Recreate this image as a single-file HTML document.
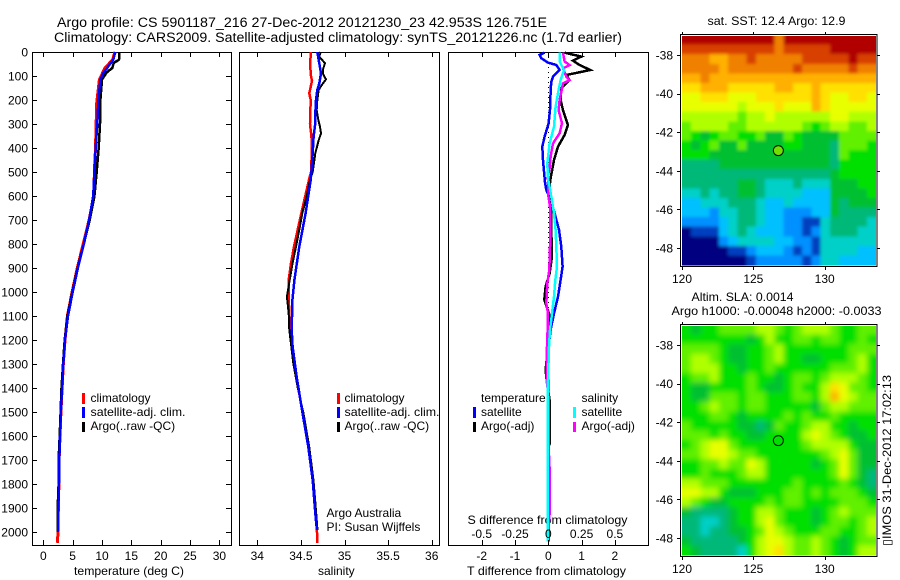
<!DOCTYPE html>
<html>
<head>
<meta charset="utf-8">
<title>Argo profile</title>
<style>
html,body{margin:0;padding:0;background:#fff;}
svg{display:block;}
text{font-family:"Liberation Sans",Arial,sans-serif;font-size:12px;fill:#000;}
</style>
</head>
<body>
<svg id="chart" xmlns="http://www.w3.org/2000/svg" width="900" height="580" viewBox="0 0 900 580">
<defs>
<filter id="soften-sst" filterUnits="userSpaceOnUse" x="660" y="15" width="240" height="270"><feGaussianBlur stdDeviation="1.6"/></filter>
<filter id="soften-sla" filterUnits="userSpaceOnUse" x="660" y="305" width="240" height="270"><feGaussianBlur stdDeviation="3"/></filter>
<clipPath id="clip-sst"><rect x="682" y="36" width="194" height="229.5"/></clipPath>
<clipPath id="clip-sla"><rect x="682" y="326" width="194" height="229.5"/></clipPath>
</defs>
<rect width="900" height="580" fill="#fff"/>
<text x="57" y="27" textLength="490" lengthAdjust="spacingAndGlyphs" style="font-size:13.5px">Argo profile: CS 5901187_216 27-Dec-2012 20121230_23 42.953S 126.751E</text>
<text x="54" y="42" textLength="568" lengthAdjust="spacingAndGlyphs" style="font-size:13.5px">Climatology: CARS2009. Satellite-adjusted climatology: synTS_20121226.nc (1.7d earlier)</text>

<g>
<rect x="82" y="393" width="3" height="11" fill="#f00"/>
<text x="90.5" y="402">climatology</text>
<rect x="82" y="407" width="3" height="11" fill="#00f"/>
<text x="90.5" y="416" textLength="95" lengthAdjust="spacingAndGlyphs">satellite-adj. clim.</text>
<rect x="82" y="422" width="3" height="10" fill="#000"/>
<text x="90.5" y="430">Argo(..raw -QC)</text>
</g>

<g>
<rect x="337" y="393" width="3" height="11" fill="#f00"/>
<text x="344.5" y="402">climatology</text>
<rect x="337" y="407" width="3" height="11" fill="#00f"/>
<text x="344.5" y="416" textLength="95" lengthAdjust="spacingAndGlyphs">satellite-adj. clim.</text>
<rect x="337" y="422" width="3" height="10" fill="#000"/>
<text x="344.5" y="430">Argo(..raw -QC)</text>
<text x="326.5" y="517">Argo Australia</text>
<text x="326.5" y="531">PI: Susan Wijffels</text>
</g>

<text x="74" y="575" textLength="110" lengthAdjust="spacingAndGlyphs">temperature (deg C)</text>
<text x="318" y="575">salinity</text>
<text x="467" y="575" textLength="159" lengthAdjust="spacingAndGlyphs">T difference from climatology</text>
<text x="467.5" y="524" textLength="160" lengthAdjust="spacingAndGlyphs">S difference from climatology</text>

<text x="707.5" y="25" textLength="138" lengthAdjust="spacingAndGlyphs">sat. SST: 12.4 Argo: 12.9</text>
<text x="691.5" y="301" textLength="102" lengthAdjust="spacingAndGlyphs">Altim. SLA: 0.0014</text>
<text x="671.5" y="315" textLength="210" lengthAdjust="spacingAndGlyphs">Argo h1000: -0.00048 h2000: -0.0033</text>
<text transform="translate(891,546) rotate(-90)" textLength="171" lengthAdjust="spacingAndGlyphs">▯IMOS 31-Dec-2012 17:02:13</text>
</svg>

<script>
/* ---------- profile data ---------- */
const tempClimDepth = [0,32,67,115,212,400,500,600,700,800,900,1000,1100,1200,1300,1400,1500,1600,1700,1800,1900,2000,2045];
const tempClimValues = [12.2,11.8,10.5,9.55,9.1,8.9,8.7,8.6,7.8,6.8,5.8,4.9,4.1,3.7,3.4,3.2,3.0,2.85,2.7,2.65,2.55,2.5,2.4];
const tempSatDepth = [0,32,60,88,115,199,299,399,499,601,700,800,900,1000,1100,1200,1300,1400,1500,1600,1700,1800,1900,2000];
const tempSatValues = [12.27,11.93,11.08,10.23,9.72,9.38,9.2,8.92,8.7,8.5,7.8,6.9,5.9,5.0,4.2,3.7,3.4,3.2,3.0,2.85,2.72,2.67,2.55,2.5];
const tempArgoDepth = [0,32,46,67,85,115,199,299,399,499,601,700,800,900,1000,1100,1200,1300,1400,1500,1600,1700,1800,1900,2000];
const tempArgoValues = [12.95,12.9,12.0,11.76,10.8,10.0,9.72,9.66,9.43,9.1,8.7,7.9,6.9,5.85,4.95,4.1,3.65,3.35,3.1,2.95,2.8,2.6,2.6,2.45,2.45];

const salClimDepth = [0,50,100,120,172,200,300,350,400,500,533,672,811,880,950,1019,1089,1200,1367,1506,1645,1784,1922,1992,2045];
const salClimValues = [34.616,34.604,34.616,34.627,34.596,34.612,34.604,34.62,34.627,34.616,34.593,34.505,34.421,34.386,34.36,34.36,34.367,34.385,34.455,34.52,34.585,34.635,34.665,34.684,34.69];
const salSatDepth = [0,47,89,131,158,200,256,297,353,422,500,533,672,811,950,1033,1158,1227,1352,1506,1645,1784,1922,1992];
const salSatValues = [34.688,34.711,34.73,34.711,34.688,34.673,34.665,34.665,34.646,34.635,34.62,34.612,34.554,34.482,34.425,34.402,34.394,34.405,34.451,34.52,34.585,34.635,34.665,34.684];
const salArgoDepth = [0,19,47,68,89,114,138,158,200,242,283,311,339,367,422,500,533,602,672,741,811,880,950,1019,1089,1158,1227,1297,1400,1506,1645,1784,1922,1992];
const salArgoValues = [34.727,34.711,34.776,34.757,34.75,34.788,34.738,34.704,34.688,34.681,34.70,34.719,34.73,34.704,34.665,34.635,34.604,34.566,34.516,34.482,34.444,34.405,34.371,34.34,34.36,34.367,34.39,34.413,34.465,34.53,34.595,34.645,34.675,34.69];

const diffTSatDepth = [3,12,26,44,54,75,89,103,124,158,228,297,353,394,450,526,533,575,616,672,741,811,894,950,1019,1089,1158,1227,1366,2040];
const diffTSatValues = [-0.11,-0.26,-0.21,-0.01,0.24,0.34,0.24,0.14,0.09,0.07,0.06,0.01,-0.11,-0.18,-0.16,-0.11,-0.11,-0.06,0.07,0.19,0.32,0.39,0.43,0.37,0.29,0.17,0.07,0.01,0.0,0.01];
const diffTArgoDepth = [3,19,36,54,75,86,96,117,151,200,242,304,346,394,450,526,589,644,741,852,922,977,1033,1089,1158,1227,1325,1366,1450,1631,1645,2040];
const diffTArgoValues = [0.49,0.99,0.74,0.94,1.26,0.89,0.54,0.64,0.39,0.37,0.44,0.59,0.49,0.29,0.17,0.07,0.01,0.09,0.09,0.11,0.04,-0.08,-0.12,0.02,0.04,-0.01,-0.08,-0.05,0.04,0.05,0.0,0.0];
const diffSArgoDepth = [3,40,54,68,103,117,131,200,242,297,339,381,436,485,526,533,589,644,741,811,908,964,1047,1089,1158,1227,1366,1450,1645,1735,1923,1978,2040];
const diffSArgoValues = [0.11,0.1225,0.16,0.11,0.135,0.16,0.11,0.085,0.0775,0.1025,0.085,0.035,0.0175,0.01,-0.0075,-0.0025,-0.0025,0.0125,0.0125,0.0125,0.0075,-0.0075,-0.015,-0.0025,-0.005,-0.01,-0.0125,0.005,0.0025,0.01,0.01,0.0025,-0.0025];
const diffSSatDepth = [3,40,75,117,172,228,311,381,464,526,602,672,741,811,894,950,1019,1089,1158,1227,1366,2040];
const diffSSatValues = [0.0875,0.085,0.1175,0.0925,0.0725,0.055,0.0425,0.01,-0.0075,-0.0025,0.0225,0.0425,0.055,0.06,0.065,0.0525,0.0425,0.0275,0.0125,0.005,-0.0025,-0.005];

/* ---------- tick labels ---------- */
const depthTicks = [0,100,200,300,400,500,600,700,800,900,1000,1100,1200,1300,1400,1500,1600,1700,1800,1900,2000];
const tempTicks = [0,5,10,15,20,25,30];
const salTicks = [34,34.5,35,35.5,36];
const diffTTicks = [-2,-1,0,1,2];
const diffSTicks = [-0.5,-0.25,0,0.25,0.5];
const lonTicks = [120,125,130];
const latTicks = [-38,-40,-42,-44,-46,-48];
const argoLon = 126.751;
const argoLat = -42.953;

/* ---------- map data (colour level 0 = coldest/lowest, 15 = warmest/highest) ---------- */
const sstGrid = [
[15,15,15,15,15,15,15,15,15,15,13,15,15,15,15,15,15,15,15,15,15],
[14,14,14,14,14,14,14,14,14,14,13,14,14,14,14,14,15,15,15,15,15],
[13,13,13,12,12,13,13,14,13,13,13,13,13,14,14,14,14,14,15,14,14],
[13,13,13,13,12,13,13,13,13,13,13,13,14,13,13,13,13,13,14,13,13],
[12,12,13,12,12,12,12,12,12,12,12,12,12,12,12,12,12,12,12,12,12],
[11,11,12,12,12,11,11,11,11,11,12,12,11,11,12,11,11,11,11,11,11],
[10,10,11,11,11,10,10,10,11,11,11,11,11,11,12,11,10,10,11,11,10],
[10,10,10,10,10,10,9,10,10,10,11,10,10,10,12,11,10,10,10,10,10],
[9,9,9,9,9,9,8,9,9,10,9,9,9,9,9,9,10,10,9,9,9],
[8,9,9,9,9,8,8,9,9,9,9,9,9,8,7,8,9,9,8,8,9],
[8,7,6,7,8,8,7,7,8,6,6,8,7,6,6,6,6,8,8,8,8],
[7,6,7,8,6,6,8,6,6,6,6,7,7,6,6,6,5,8,8,8,7],
[7,7,7,6,6,6,6,6,6,6,6,6,6,6,6,6,5,8,7,7,7],
[5,5,5,5,6,6,6,6,6,6,6,6,6,6,6,6,5,7,7,7,7],
[5,5,5,5,5,5,5,5,5,5,5,5,5,5,5,5,6,7,7,7,7],
[5,5,5,5,5,5,6,6,5,4,4,4,5,4,4,4,6,6,6,7,7],
[4,4,5,4,5,5,6,6,5,4,4,4,4,3,3,3,6,6,6,6,7],
[3,3,4,4,4,5,5,5,4,3,3,4,3,3,3,3,6,5,6,6,6],
[3,3,3,2,4,4,5,5,4,3,3,2,2,2,3,3,6,5,5,5,5],
[2,2,2,2,3,4,5,5,4,3,3,2,2,1,1,4,5,5,5,5,4],
[0,1,1,1,3,4,5,4,3,3,3,2,2,1,2,4,5,5,5,4,4],
[0,0,0,0,2,3,4,4,4,4,3,3,2,2,1,4,4,4,4,4,4],
[0,0,0,0,0,1,1,2,3,3,3,2,1,2,1,4,4,4,4,3,3],
[0,0,0,0,0,0,0,1,2,2,2,2,2,1,2,4,4,3,3,3,3]
];
const slaGrid = [
[7,6,7,7,8,8,8,8,9,9,8,7,8,9,9,9,8,7,7,8,8],
[7,7,7,7,7,7,7,6,7,9,7,7,8,8,7,8,8,7,7,8,7],
[8,8,8,8,7,6,6,7,7,8,9,7,7,7,7,7,7,7,8,8,8],
[8,9,9,8,7,6,6,7,7,8,9,7,7,6,6,7,7,7,8,9,7],
[8,9,9,9,7,7,6,7,7,8,7,7,7,7,7,7,8,8,8,9,7],
[7,8,8,9,7,7,7,8,7,7,6,7,8,8,7,8,9,9,9,8,7],
[7,6,6,7,7,7,7,8,7,6,6,7,8,7,7,9,11,10,8,8,7],
[7,6,6,8,8,8,7,8,8,7,7,7,8,8,7,9,12,10,9,8,8],
[7,7,8,9,8,8,7,8,8,7,7,7,7,7,6,8,9,9,8,8,8],
[7,7,7,8,8,7,6,7,7,7,7,8,7,8,7,7,8,7,7,7,7],
[8,7,7,7,7,7,6,6,5,6,8,7,7,8,9,9,7,7,6,7,7],
[8,8,8,7,8,7,7,6,6,7,7,7,7,9,10,9,8,7,6,6,7],
[7,8,9,10,10,8,7,7,7,7,7,7,7,8,9,9,9,9,7,6,6],
[8,8,9,10,10,9,8,8,7,7,7,7,7,7,7,8,9,10,8,6,6],
[7,7,8,8,9,8,8,10,9,7,7,7,7,7,6,7,8,10,8,6,6],
[7,7,8,7,7,7,8,9,9,7,7,7,7,7,7,7,8,10,8,6,5],
[9,9,8,8,8,7,7,7,7,7,7,7,8,7,7,7,7,8,7,6,5],
[10,10,9,9,7,6,6,6,7,7,7,8,8,7,8,7,8,8,8,7,6],
[9,8,7,6,6,7,7,7,7,8,7,8,8,7,7,7,7,8,8,8,7],
[6,5,5,5,5,6,7,7,9,9,8,7,7,7,6,7,8,9,8,8,8],
[5,5,4,4,5,6,7,7,9,10,8,7,7,7,6,7,8,8,7,8,9],
[5,5,4,5,5,6,6,7,8,10,9,8,7,7,7,8,8,7,7,8,9],
[6,5,5,5,5,5,6,7,9,10,10,9,8,8,9,8,7,6,7,8,8],
[7,6,5,5,5,5,4,7,9,10,11,9,8,8,9,8,7,6,7,9,9]
];
const colorRamp = ['#000080','#0040c0','#0090ff','#00c0ff','#00d0c8','#00b878','#00c030','#00e000','#60f000','#b0ff00','#e8ff00','#ffe000','#ffb000','#f08000','#d84000','#b00000'];

/* ---------- drawing ---------- */
const svg = document.getElementById('chart');
const NS = 'http://www.w3.org/2000/svg';
function make(tag, attrs, parent) {
  const el = document.createElementNS(NS, tag);
  for (const k in attrs) el.setAttribute(k, attrs[k]);
  (parent || svg).appendChild(el);
  return el;
}
const PLOT_TOP = 52, PLOT_BOTTOM = 545;
function depthY(d) { return PLOT_TOP + 0.24 * d; }
function tempX(t) { return 43.3 + 5.87 * t; }
function salX(s) { return 257.3 + 87.2 * (s - 34); }
function diffTX(t) { return 548.3 + 33.3 * t; }
function diffSX(s) { return 548.3 + 133.2 * s; }
function lonX(lon) { return 682 + 14.27 * (lon - 120); }
function latOffset(lat) { return 55 + 19.3 * (-38 - lat); }

function drawLine(xs, depths, xFn, color, width, parent) {
  const pts = xs.map(function (v, i) { return xFn(v).toFixed(1) + ',' + depthY(depths[i]).toFixed(1); }).join(' ');
  return make('polyline', {points: pts, fill: 'none', stroke: color, 'stroke-width': width, 'stroke-linejoin': 'miter', 'shape-rendering': 'crispEdges'}, parent);
}
function tickLine(x1, y1, x2, y2, parent) {
  return make('line', {x1: x1, y1: y1, x2: x2, y2: y2, stroke: '#000', 'stroke-width': 1, 'shape-rendering': 'crispEdges'}, parent);
}
function label(str, x, y, anchor, parent) {
  const t = make('text', {x: x, y: y, 'text-anchor': anchor}, parent);
  t.textContent = str;
  return t;
}

/* Temperature panel */
const tempPanel = make('g', {});


const tempFrame = make('rect', {x: 32.5, y: 52.5, width: 199, height: 493, fill: 'none', stroke: '#000', 'stroke-width': 1, 'shape-rendering': 'crispEdges'}, tempPanel);


const tempClimLine = drawLine(tempClimValues, tempClimDepth, tempX, '#f00', 3, tempPanel);


const tempArgoLine = drawLine(tempArgoValues, tempArgoDepth, tempX, '#000', 2.5, tempPanel);


const tempSatLine = drawLine(tempSatValues, tempSatDepth, tempX, '#00f', 2.5, tempPanel);


depthTicks.forEach(function (d) {
  const y = Math.round(depthY(d)) + 0.5;
  const left = tickLine(32, y, 37, y, tempPanel);
  
  
  const right = tickLine(226, y, 231, y, tempPanel);
  
  
  const t = label(String(d), 28, depthY(d) + 4.5, 'end', tempPanel);
  
  
});
tempTicks.forEach(function (v) {
  const x = Math.round(tempX(v)) + 0.5;
  const top = tickLine(x, 52, x, 57, tempPanel);
  
  
  const bottom = tickLine(x, 540, x, 545, tempPanel);
  
  
  const t = label(String(v), tempX(v), 560, 'middle', tempPanel);
  
  
});

/* Salinity panel */
const salPanel = make('g', {});


const salFrame = make('rect', {x: 239.5, y: 52.5, width: 200, height: 493, fill: 'none', stroke: '#000', 'stroke-width': 1, 'shape-rendering': 'crispEdges'}, salPanel);


const salClimLine = drawLine(salClimValues, salClimDepth, salX, '#f00', 2.5, salPanel);


const salArgoLine = drawLine(salArgoValues, salArgoDepth, salX, '#000', 2, salPanel);


const salSatLine = drawLine(salSatValues, salSatDepth, salX, '#00f', 2.5, salPanel);


salTicks.forEach(function (v) {
  const x = Math.round(salX(v)) + 0.5;
  const top = tickLine(x, 52, x, 57, salPanel);
  
  
  const bottom = tickLine(x, 540, x, 545, salPanel);
  
  
  const t = label(String(v), salX(v), 560, 'middle', salPanel);
  
  
});

/* Difference panel */
const diffPanel = make('g', {});


const diffFrame = make('rect', {x: 448.5, y: 52.5, width: 200, height: 493, fill: 'none', stroke: '#000', 'stroke-width': 1, 'shape-rendering': 'crispEdges'}, diffPanel);


const zeroLine = make('line', {x1: diffTX(0), y1: 52, x2: diffTX(0), y2: 545, stroke: '#000', 'stroke-width': 1, 'stroke-dasharray': '1 4', 'shape-rendering': 'crispEdges'}, diffPanel);


const diffTSatLine = drawLine(diffTSatValues, diffTSatDepth, diffTX, '#00f', 2.5, diffPanel);


const diffTArgoLine = drawLine(diffTArgoValues, diffTArgoDepth, diffTX, '#000', 2.5, diffPanel);


const diffSArgoLine = drawLine(diffSArgoValues, diffSArgoDepth, diffSX, '#f0f', 2.5, diffPanel);


const diffSSatLine = drawLine(diffSSatValues, diffSSatDepth, diffSX, '#0ff', 2.5, diffPanel);


diffTTicks.forEach(function (v) {
  const x = Math.round(diffTX(v)) + 0.5;
  const top = tickLine(x, 52, x, 57, diffPanel);
  
  
  const bottom = tickLine(x, 540, x, 545, diffPanel);
  
  
  const t = label(String(v), diffTX(v), 560, 'middle', diffPanel);
  
  
});
diffSTicks.forEach(function (v) {
  const t = label(String(v), diffSX(v), 538, 'middle', diffPanel);
  
  
});

/* Difference legend */
const diffLegend = make('g', {});


const legTemp = label('temperature', 481, 402, 'start', diffLegend);


const legSal = label('salinity', 581.5, 402, 'start', diffLegend);


const legTSat = label('satellite', 481, 416, 'start', diffLegend);


const legTArgo = label('Argo(-adj)', 481, 430, 'start', diffLegend);


const legSSat = label('satellite', 581.5, 416, 'start', diffLegend);


const legSArgo = label('Argo(-adj)', 581.5, 430, 'start', diffLegend);


const swTSat = make('rect', {x: 473, y: 407, width: 3, height: 11, fill: '#00f'}, diffLegend);


const swTArgo = make('rect', {x: 473, y: 422, width: 3, height: 10, fill: '#000'}, diffLegend);


const swSSat = make('rect', {x: 573, y: 407, width: 3, height: 11, fill: '#0ff'}, diffLegend);


const swSArgo = make('rect', {x: 573, y: 422, width: 3, height: 10, fill: '#f0f'}, diffLegend);



/* Maps */
function drawMap(grid, top, panelName, circleFill, filterId, clipId) {
  const g = make('g', {});
  
  
  const left = 682, right = 876, imgBottom = top + 230, bleed = 12;
  const rows = grid.length, cols = grid[0].length;
  const cw = (right - left) / cols, ch = (imgBottom - top) / rows;
  const clipG = make('g', {'clip-path': 'url(#' + clipId + ')'}, g);
  
  
  const cellsG = make('g', {filter: 'url(#' + filterId + ')'}, clipG);
  
  
  grid.forEach(function (row, r) {
    row.forEach(function (v, c) {
      const level = Math.max(0, Math.min(colorRamp.length - 1, Math.round(v)));
      const x0 = left + c * cw - (c === 0 ? bleed : 0);
      const x1 = left + (c + 1) * cw + (c === cols - 1 ? bleed : 0);
      const y0 = top + r * ch - (r === 0 ? bleed : 0);
      const y1 = top + (r + 1) * ch + (r === rows - 1 ? bleed : 0);
      const cell = make('rect', {x: x0.toFixed(2), y: y0.toFixed(2), width: (x1 - x0 + 0.5).toFixed(2), height: (y1 - y0 + 0.5).toFixed(2), fill: colorRamp[level], 'shape-rendering': 'crispEdges'}, cellsG);
      
      
    });
  });
  const frame = make('rect', {x: 680.5, y: top - 0.5, width: 196.5, height: 232, fill: 'none', stroke: '#000', 'stroke-width': 1, 'shape-rendering': 'crispEdges'}, g);
  
  
  const shift = top - 35;
  lonTicks.forEach(function (lon) {
    const x = Math.round(lonX(lon)) + 0.5;
    const tt = tickLine(x, top - 3, x, top, g);
    
    
    const tb = tickLine(x, top + 232, x, top + 235, g);
    
    
    const t = label(String(lon), lonX(lon), top + 248, 'middle', g);
    
    
  });
  latTicks.forEach(function (lat) {
    const y = Math.round(latOffset(lat) + shift) + 0.5;
    const tl = tickLine(677, y, 681, y, g);
    
    
    const tr = tickLine(877, y, 880, y, g);
    
    
    const t = label(String(lat), 673, latOffset(lat) + shift + 4.5, 'end', g);
    
    
  });
  const marker = make('circle', {cx: lonX(argoLon), cy: latOffset(argoLat) + shift, r: 5, fill: circleFill, stroke: '#000', 'stroke-width': 1}, g);
  
  
}
drawMap(sstGrid, 35, 'sst-map', '#70e000', 'soften-sst', 'clip-sst');
drawMap(slaGrid, 325, 'sla-map', '#00e000', 'soften-sla', 'clip-sla');
</script>
</body>
</html>
